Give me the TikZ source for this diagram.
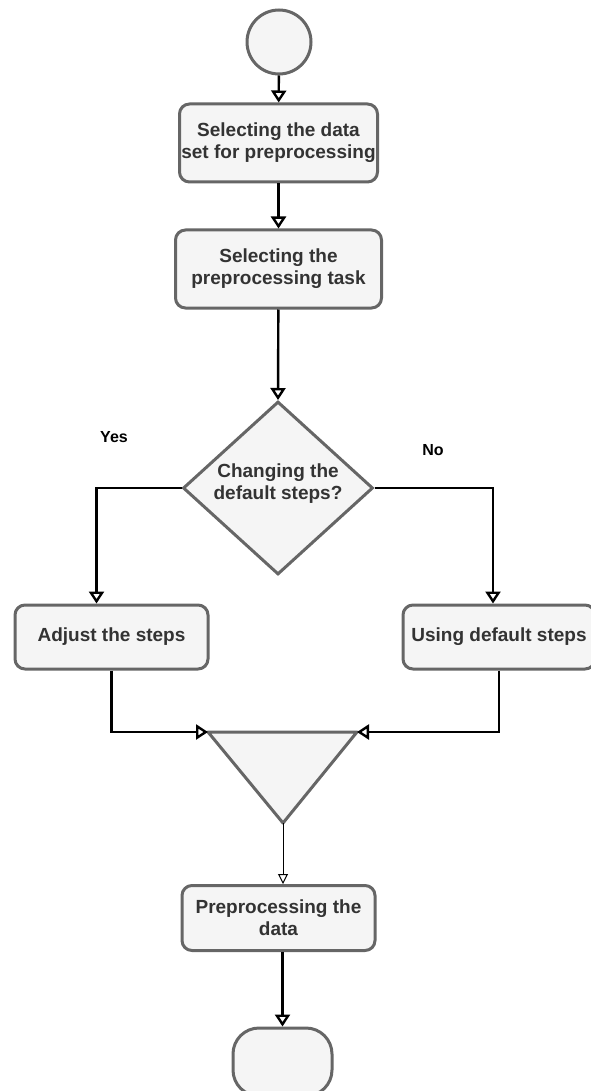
\documentclass[tikz,border=0pt]{standalone}
\usepackage{fontspec}
\setmainfont{Liberation Sans}
\usetikzlibrary{arrows.meta,shapes.geometric}
\definecolor{boxfill}{HTML}{F5F5F5}
\definecolor{boxline}{HTML}{666666}
\definecolor{boxtext}{HTML}{333333}
\begin{document}
\begin{tikzpicture}[x=1pt,y=-1pt,
  shapebase/.style={draw=boxline, fill=boxfill, line width=3pt, text=boxtext,
    font=\fontsize{19}{22}\selectfont\bfseries, align=center, inner sep=0pt},
  stepbox/.style={shapebase, rectangle, rounded corners=10pt},
  flow/.style={draw=black, line width=2.4pt, -{Triangle[open, length=12pt, width=15pt]}},
  thinflow/.style={draw=black, line width=1pt, -{Triangle[open, length=10pt, width=10pt]}},
  answer/.style={font=\fontsize{16}{19}\selectfont\bfseries, text=black}]
  \useasboundingbox (0,0) rectangle (590,1091);

  % start and process boxes
  \node[shapebase, circle, minimum size=64pt] (start) at (279,42) {};
  \node[stepbox, minimum width=198pt, minimum height=78pt] (select) at (278.5,143)
    {Selecting the data\\set for preprocessing};
  \node[stepbox, minimum width=206pt, minimum height=78pt] (task) at (278.5,269)
    {Selecting the\\preprocessing task};

  % decision
  \node[shapebase, diamond, minimum width=190pt, minimum height=173pt] (decide) at (278,488) {};
  \node[text=boxtext, font=\fontsize{19}{22}\selectfont\bfseries, align=center]
    (decidetext) at (278,484) {Changing the\\default steps?};

  % branches
  \node[stepbox, minimum width=193pt, minimum height=64pt] (adjust) at (111.5,637)
    {Adjust the steps};
  \node[stepbox, minimum width=192pt, minimum height=64pt] (default) at (499,637)
    {Using default steps};

  % merge triangle
  \coordinate (mergeL) at (208,732);
  \coordinate (mergeR) at (357,732);
  \coordinate (mergeB) at (283,823);
  \draw[draw=boxline, fill=boxfill, line width=3pt, line join=round]
    (mergeL) -- (mergeR) -- (mergeB) -- cycle;

  \node[stepbox, minimum width=193pt, minimum height=65pt] (run) at (278.5,918)
    {Preprocessing the\\data};
  \node[shapebase, rectangle, rounded corners=26pt, minimum width=99pt, minimum height=68pt]
    (stop) at (282.5,1062) {};

  % answer labels
  \node[answer] (yes) at (114,437) {Yes};
  \node[answer] (no) at (433,450) {No};

  % connectors
  \draw[flow] (start) -- (select);
  \draw[flow] (select) -- (task);
  \draw[flow] (task) -- (decide.north);
  \coordinate (adjustIn) at ([xshift=-15pt]adjust.north);
  \coordinate (defaultIn) at ([xshift=-6pt]default.north);
  \draw[flow] (decide.west) -| (adjustIn);
  \draw[flow] (decide.east) -| (defaultIn);
  \draw[flow] (adjust.south) |- (mergeL);
  \draw[flow] (default.south) |- (mergeR);
  \draw[thinflow] (mergeB) -- (mergeB |- run.north);
  \draw[flow] (stop.north |- run.south) -- (stop.north);
\end{tikzpicture}
\end{document}
